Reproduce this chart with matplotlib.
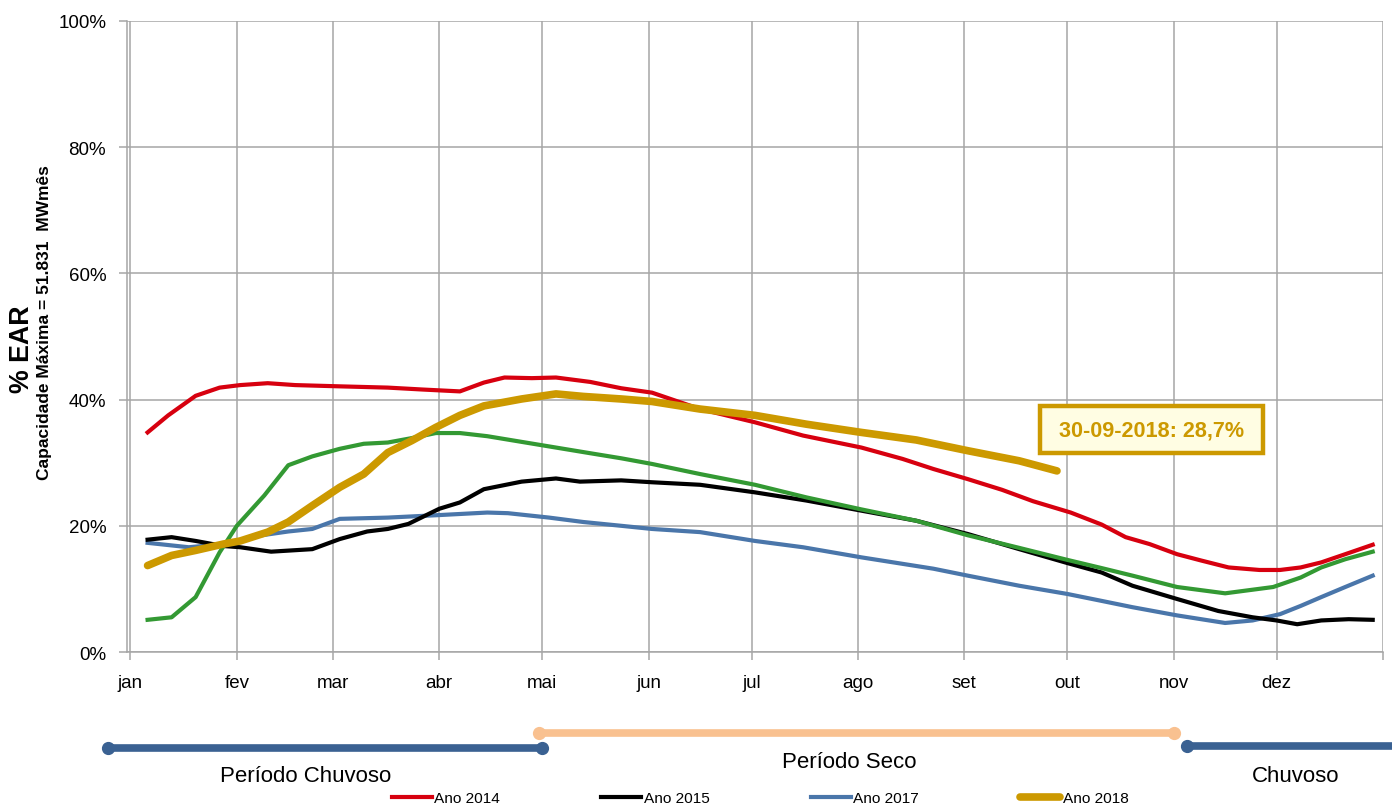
import matplotlib
matplotlib.use("Agg")
import matplotlib.pyplot as plt
import matplotlib.transforms as mtransforms
from matplotlib import font_manager

# ---------------------------------------------------------------------------
# Stored energy (% EAR) through the year, day of year -> percent
# ---------------------------------------------------------------------------
days_2014 = [5, 11, 19, 26, 32, 40, 48, 61, 75, 85, 96, 103, 109, 117, 124, 134,
             143, 152, 166, 182, 196, 213, 225, 234, 244, 254, 263, 274, 283, 290,
             297, 305, 312, 320, 329, 335, 341, 347, 354, 362]
ear_2014 = [34.8, 37.5, 40.6, 41.9, 42.3, 42.6, 42.3, 42.1, 41.9, 41.6, 41.3, 42.7,
            43.5, 43.4, 43.5, 42.8, 41.8, 41.1, 38.5, 36.4, 34.3, 32.4, 30.6, 29.0,
            27.4, 25.7, 23.9, 22.1, 20.2, 18.2, 17.1, 15.5, 14.5, 13.4, 13.0, 13.0,
            13.4, 14.2, 15.5, 17.0]

days_2015 = [5, 12, 19, 27, 32, 41, 53, 61, 69, 75, 81, 90, 96, 103, 114, 124, 131,
             143, 152, 166, 182, 197, 213, 229, 244, 259, 273, 283, 292, 305, 317,
             327, 334, 340, 347, 355, 362]
ear_2015 = [17.8, 18.2, 17.6, 16.8, 16.6, 15.9, 16.3, 17.9, 19.1, 19.5, 20.3, 22.7,
            23.7, 25.8, 27.0, 27.5, 27.0, 27.2, 26.9, 26.5, 25.3, 24.0, 22.4, 20.8,
            18.7, 16.3, 14.1, 12.6, 10.5, 8.4, 6.5, 5.5, 5.0, 4.4, 5.0, 5.2, 5.1]

days_2016 = [5, 12, 19, 26, 31, 39, 46, 53, 61, 68, 75, 82, 89, 96, 104, 114, 124,
             134, 143, 152, 166, 182, 197, 213, 229, 244, 259, 273, 283, 292, 305,
             319, 333, 341, 347, 354, 362]
ear_2016 = [5.1, 5.5, 8.7, 15.8, 20.0, 24.8, 29.6, 31.0, 32.2, 33.0, 33.2, 33.9, 34.7,
            34.7, 34.2, 33.3, 32.4, 31.5, 30.7, 29.8, 28.2, 26.5, 24.5, 22.6, 20.8,
            18.5, 16.5, 14.6, 13.3, 12.1, 10.3, 9.3, 10.3, 11.8, 13.4, 14.7, 15.9]

days_2017 = [5, 17, 27, 37, 46, 53, 61, 75, 90, 104, 110, 122, 132, 143, 152, 166,
             182, 196, 213, 234, 244, 259, 273, 283, 292, 305, 319, 327, 335, 341,
             347, 354, 362]
ear_2017 = [17.3, 16.6, 17.1, 18.4, 19.1, 19.5, 21.1, 21.3, 21.7, 22.1, 22.0, 21.3,
            20.6, 20.0, 19.5, 19.0, 17.6, 16.6, 15.0, 13.2, 12.1, 10.5, 9.2, 8.1, 7.1,
            5.8, 4.6, 5.0, 6.0, 7.3, 8.7, 10.3, 12.1]

days_2018 = [5, 12, 19, 27, 32, 40, 46, 53, 61, 68, 75, 82, 89, 96, 103, 114, 124,
             132, 143, 152, 166, 182, 197, 213, 229, 244, 259, 270]
ear_2018 = [13.7, 15.3, 16.1, 17.1, 17.6, 19.0, 20.6, 23.2, 26.1, 28.2, 31.6, 33.5,
            35.6, 37.5, 39.0, 40.1, 40.9, 40.5, 40.1, 39.7, 38.5, 37.5, 36.1, 34.8,
            33.6, 31.9, 30.3, 28.7]
last_date_2018 = "30-09-2018"

month_starts = [0, 31, 59, 90, 120, 151, 181, 212, 243, 273, 304, 334]
month_labels = ["jan", "fev", "mar", "abr", "mai", "jun", "jul", "ago", "set",
                "out", "nov", "dez"]
y_ticks = [0, 20, 40, 60, 80, 100]

# Hydrological seasons (start day, end day, label)
season_names = ["Período Chuvoso", "Período Seco", "Chuvoso"]
season_start = [-6.5, 119, 308]
season_end = [120, 304, 372]

# ---------------------------------------------------------------------------
available = {f.name for f in font_manager.fontManager.ttflist}
if "Liberation Sans Narrow" in available:
    NARROW, SCALE = "Liberation Sans Narrow", 1.0
else:
    NARROW, SCALE = "Liberation Sans", 0.82


def fs(size):
    return size * SCALE


C_2014 = "#d7000f"
C_2015 = "#000000"
C_2016 = "#339933"
C_2017 = "#4a76aa"
C_2018 = "#cc9900"
GRID = "#a6a6a6"

W, H = 1392, 812
fig = plt.figure(figsize=(W / 100, H / 100), dpi=100)
ax = fig.add_axes([127 / W, 1 - 653 / H, (1383 - 127) / W, (653 - 22) / H])

ax.plot(days_2017, ear_2017, color=C_2017, lw=3.0, label="Ano 2017", zorder=3)
ax.plot(days_2015, ear_2015, color=C_2015, lw=3.0, label="Ano 2015", zorder=3)
ax.plot(days_2016, ear_2016, color=C_2016, lw=3.0, zorder=3)
ax.plot(days_2014, ear_2014, color=C_2014, lw=3.0, label="Ano 2014", zorder=3)
ax.plot(days_2018, ear_2018, color=C_2018, lw=5.5, label="Ano 2018",
        solid_capstyle="round", zorder=4)

ax.set_xlim(-1, 365)
ax.set_ylim(0, 100)
ax.set_xticks(month_starts + [365])
ax.set_xticklabels(month_labels + [""], fontsize=fs(16.5), family=NARROW)
ax.set_yticks(y_ticks)
ax.set_yticklabels([f"{v}%" for v in y_ticks], fontsize=fs(16.5), family=NARROW)
ax.tick_params(axis="both", direction="out", length=6, width=1.1, color=GRID)
ax.tick_params(axis="y", pad=9)
ax.tick_params(axis="x", pad=10)
ax.grid(True, color=GRID, lw=1.1)
ax.set_axisbelow(True)
for side in ("top", "right"):
    ax.spines[side].set_visible(False)
for side in ("left", "bottom"):
    ax.spines[side].set_color(GRID)
    ax.spines[side].set_linewidth(1.1)

# Axis title in two lines
fig.text(22 / W, 1 - 349 / H, "% EAR", rotation=90, ha="center", va="center",
         fontsize=fs(23.5), fontweight="bold", family=NARROW)
fig.text(44 / W, 1 - 323 / H, "Capacidade Máxima = 51.831  MWmês", rotation=90,
         ha="center", va="center", fontsize=fs(15.3), fontweight="bold", family=NARROW)

# Last observed value of 2018
label = f" {last_date_2018}: {ear_2018[-1]:.1f}% ".replace(".", ",")
ax.text(297.5, 35.2, label, ha="center", va="center", color=C_2018,
        fontsize=fs(19), fontweight="bold", family=NARROW, zorder=6,
        bbox=dict(boxstyle="square,pad=0.6", facecolor="#fffde3",
                  edgecolor=C_2018, linewidth=3.2))

# Season bars under the axis
trans = mtransforms.blended_transform_factory(ax.transData, ax.transAxes)
season_colors = ["#3a6192", "#f9c190", "#3a6192"]
season_y = [-0.152, -0.128, -0.149]
label_y = [-0.195, -0.173, -0.195]
label_x = [51, 209.5, 339.5]
for i, name in enumerate(season_names):
    xs = [season_start[i], season_end[i]]
    ax.plot(xs, [season_y[i]] * 2, color=season_colors[i], lw=5.5,
            transform=trans, clip_on=False, solid_capstyle="butt")
    ends = xs if season_end[i] <= 365 else xs[:1]
    ax.plot(ends, [season_y[i]] * len(ends), "o", color=season_colors[i],
            ms=8.5, transform=trans, clip_on=False)
    ax.text(label_x[i], label_y[i], name, transform=trans, ha="center",
            va="center", fontsize=fs(19.5), family=NARROW)

handles, labels = ax.get_legend_handles_labels()
order = [labels.index(n) for n in ["Ano 2014", "Ano 2015", "Ano 2017", "Ano 2018"]]
leg = fig.legend([handles[i] for i in order], [labels[i] for i in order],
                 loc="center", bbox_to_anchor=(760 / W, 1 - 799 / H), ncol=4,
                 frameon=False, prop={"family": NARROW, "size": fs(13.5)},
                 handlelength=2.6, handletextpad=0.15, columnspacing=6.6,
                 borderpad=0)

fig.savefig("out.png", dpi=100)
